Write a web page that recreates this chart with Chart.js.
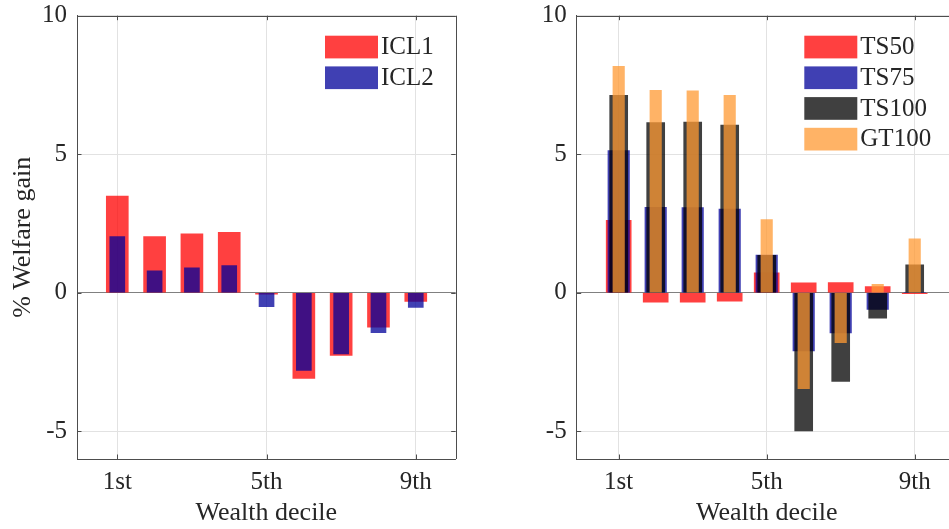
<!DOCTYPE html>
<html>
<head>
<meta charset="utf-8">
<script src="https://cdn.jsdelivr.net/npm/chart.js@4.4.0/dist/chart.umd.min.js"></script>
<style>
  html, body { margin: 0; padding: 0; background: #ffffff; overflow: hidden; }
  #wrap { position: relative; width: 949px; height: 529px; overflow: hidden; }
  #leftChart { position: absolute; left: 0; top: 0; }
  #rightChart { position: absolute; left: 470px; top: 0; }
</style>
</head>
<body>
<div id="wrap">
  <canvas id="leftChart" width="470" height="529"></canvas>
  <canvas id="rightChart" width="500" height="529"></canvas>
</div>
<script>
// ====== DADOS ======
const deciles = [1, 2, 3, 4, 5, 6, 7, 8, 9];
const xTickValues = [1, 5, 9];
const xTickLabels = ['1st', '5th', '9th'];
const yTickValues = [-5, 0, 5, 10];

const icl1 = [3.49, 2.03, 2.13, 2.18, -0.05, -3.09, -2.26, -1.24, -0.31];
const icl2 = [2.03, 0.79, 0.90, 0.98, -0.50, -2.80, -2.21, -1.44, -0.53];

const ts50  = [2.61, -0.34, -0.34, -0.30, 0.72, 0.36, 0.37, 0.22, -0.03];
const ts75  = [5.13, 3.08, 3.07, 3.02, 1.36, -2.10, -1.45, -0.60, 0.02];
const ts100 = [7.13, 6.14, 6.16, 6.05, 1.35, -4.99, -3.20, -0.92, 1.01];
const gt100 = [8.17, 7.31, 7.29, 7.13, 2.64, -3.46, -1.80, 0.30, 1.95];

// ====== ESTILO ======
const RED = 'rgba(255,0,0,0.75)';
const BLUE = 'rgba(0,0,153,0.75)';
const BLACK = 'rgba(0,0,0,0.75)';
const ORANGE = 'rgba(255,153,51,0.75)';
const TEXT = '#262626';
const AXIS = '#4d4d4d';
const GRID = '#e2e2e2';
const ZERO = '#808080';
const FONT = 'Liberation Serif';

Chart.defaults.font.family = FONT;
Chart.defaults.color = TEXT;

// caixa estilo matlab: borda superior/direita e ticks para dentro
const matlabFrame = {
  id: 'matlabFrame',
  afterDraw(chart) {
    const { ctx, chartArea: a, scales: { x, y } } = chart;
    const r = v => Math.round(v) + 0.5;
    const tl = 4.5;
    ctx.save();
    ctx.strokeStyle = AXIS;
    ctx.lineWidth = 1;
    ctx.beginPath();
    ctx.moveTo(a.left, r(a.top));
    ctx.lineTo(a.right, r(a.top));
    ctx.moveTo(r(a.right), a.top);
    ctx.lineTo(r(a.right), a.bottom);
    x.ticks.forEach(t => {
      const px = r(x.getPixelForValue(t.value));
      ctx.moveTo(px, a.bottom); ctx.lineTo(px, a.bottom - tl);
      ctx.moveTo(px, a.top); ctx.lineTo(px, a.top + tl);
    });
    y.ticks.forEach(t => {
      const py = r(y.getPixelForValue(t.value));
      ctx.moveTo(a.left, py); ctx.lineTo(a.left + tl, py);
      ctx.moveTo(a.right, py); ctx.lineTo(a.right - tl, py);
    });
    ctx.stroke();
    ctx.restore();
  }
};

// legenda dentro do gráfico (canto superior direito)
const boxLegend = {
  id: 'boxLegend',
  afterDraw(chart, args, opts) {
    const { ctx, chartArea: a } = chart;
    const x0 = a.right - opts.fromRight;
    ctx.save();
    ctx.font = `25px "${FONT}"`;
    ctx.textBaseline = 'middle';
    ctx.textAlign = 'left';
    chart.data.datasets.forEach((ds, i) => {
      const y0 = a.top + 20 + i * 30.7;
      ctx.fillStyle = ds.backgroundColor;
      ctx.fillRect(x0, y0, 53, 22.7);
      ctx.fillStyle = TEXT;
      ctx.fillText(ds.label, x0 + 56, y0 + 12);
    });
    ctx.restore();
  }
};

function makeDataset(label, values, color, width, i, n) {
  return {
    label: label,
    data: deciles.map((d, k) => ({ x: d, y: values[k] })),
    backgroundColor: color,
    borderWidth: 0,
    barThickness: width,
    grouped: false,
    order: n - i
  };
}

function makePanel(id, datasets, cfg) {
  return new Chart(document.getElementById(id), {
    type: 'bar',
    data: { datasets: datasets },
    options: {
      responsive: false,
      animation: false,
      layout: { padding: { top: 15.7, right: cfg.padRight, left: 0, bottom: 0 } },
      plugins: {
        legend: { display: false },
        tooltip: { enabled: false },
        boxLegend: { fromRight: cfg.legendRight }
      },
      scales: {
        x: {
          type: 'linear',
          min: cfg.xMin,
          max: cfg.xMax,
          offset: false,
          grid: { offset: false, color: GRID, drawTicks: false },
          border: { color: AXIS, width: 1 },
          afterBuildTicks: s => { s.ticks = xTickValues.map(v => ({ value: v })); },
          afterFit: s => { s.height = 70; s.paddingLeft = 0; s.paddingRight = 0; },
          ticks: {
            padding: 8,
            autoSkip: false,
            maxRotation: 0,
            color: TEXT,
            font: { size: 25 },
            callback: (v, idx) => xTickLabels[idx]
          },
          title: {
            display: true,
            text: 'Wealth decile',
            color: TEXT,
            font: { size: 26 },
            padding: { top: 0, bottom: 0 }
          }
        },
        y: {
          min: -6,
          max: 10,
          grid: {
            drawTicks: false,
            color: c => (c.tick && c.tick.value === 0 ? ZERO : GRID)
          },
          border: { color: AXIS, width: 1 },
          afterBuildTicks: s => { s.ticks = yTickValues.map(v => ({ value: v })); },
          afterFit: s => { s.width = cfg.yWidth; s.paddingTop = 0; s.paddingBottom = 0; },
          ticks: {
            padding: 10,
            color: TEXT,
            font: { size: 25 },
            callback: v => String(v)
          },
          title: {
            display: cfg.yTitle !== '',
            text: cfg.yTitle,
            color: TEXT,
            font: { size: 26 },
            padding: { top: 8, bottom: 0 }
          }
        }
      }
    },
    plugins: [matlabFrame, boxLegend]
  });
}

// ====== PAINEL ESQUERDO ======
makePanel('leftChart', [
  makeDataset('ICL1', icl1, RED, 22, 0, 2),
  makeDataset('ICL2', icl2, BLUE, 15, 1, 2)
], { padRight: 14.3, yWidth: 77, xMin: -0.08, xMax: 10.07, legendRight: 130.7, yTitle: '% Welfare gain' });

// ====== PAINEL DIREITO ======
makePanel('rightChart', [
  makeDataset('TS50', ts50, RED, 25, 0, 4),
  makeDataset('TS75', ts75, BLUE, 21.5, 1, 4),
  makeDataset('TS100', ts100, BLACK, 18, 2, 4),
  makeDataset('GT100', gt100, ORANGE, 11.5, 3, 4)
], { padRight: 13.3, yWidth: 106.7, xMin: -0.135, xMax: 10.135, legendRight: 152.4, yTitle: '' });
</script>
</body>
</html>
